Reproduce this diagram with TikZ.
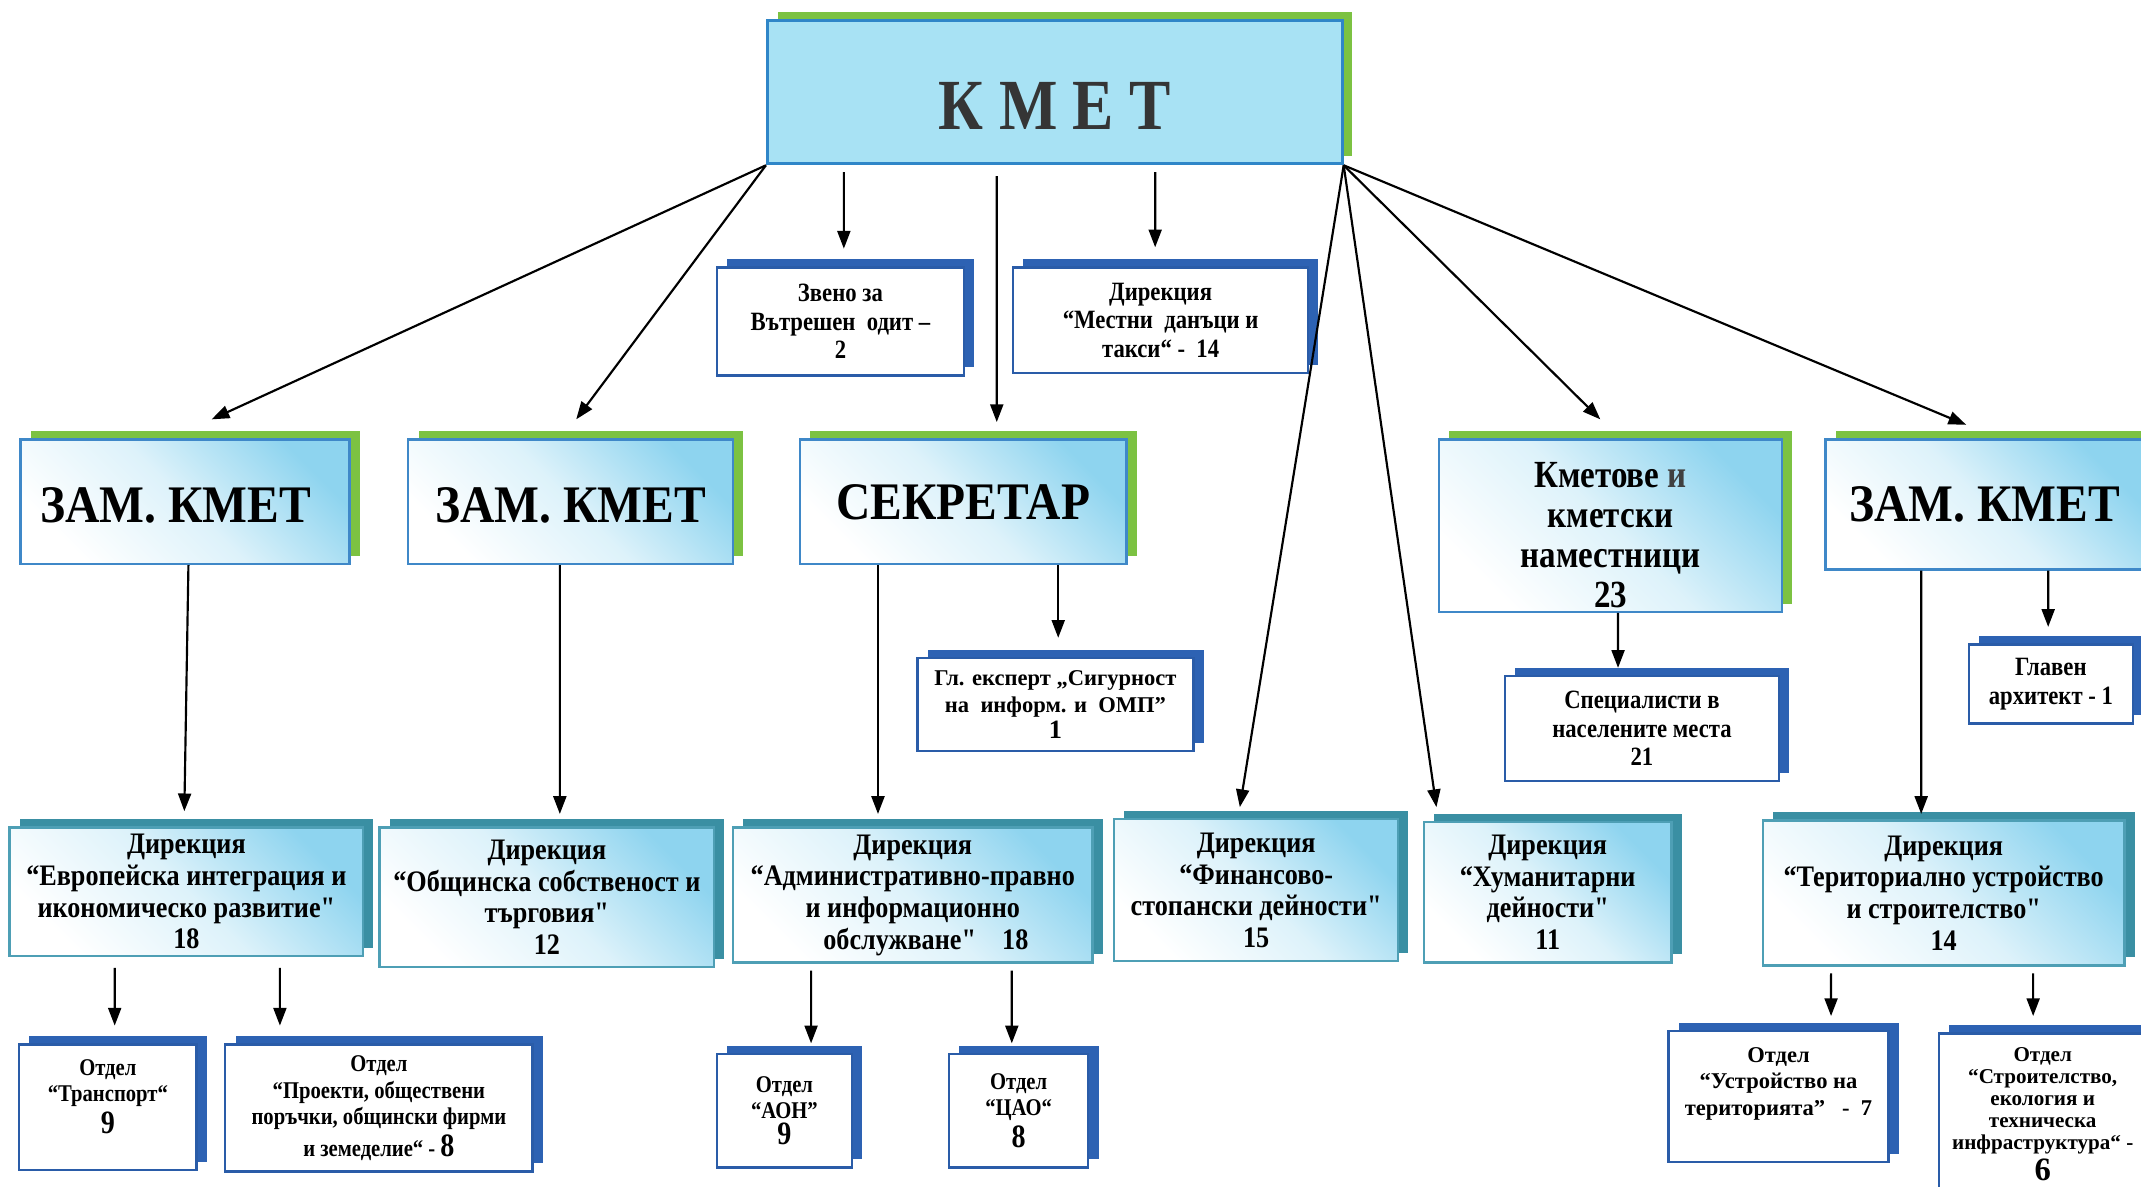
\documentclass[tikz,border=0pt]{standalone}
\usepackage{fontspec}
\setmainfont{Liberation Serif}
\newfontfamily\narrowfont{Liberation Serif}[FakeStretch=0.86]
\newfontfamily\dirfont{Liberation Serif}[FakeStretch=0.88]
\newfontfamily\headfont{Liberation Serif}[FakeStretch=0.9]
\usetikzlibrary{arrows.meta,calc}
\definecolor{kmetfill}{HTML}{A8E2F4}
\definecolor{kmetline}{HTML}{2F86C8}
\definecolor{shgreen}{HTML}{7CC242}
\definecolor{shblue}{HTML}{2D62B3}
\definecolor{shteal}{HTML}{3A8FA3}
\definecolor{skyfade}{HTML}{8ED4EF}
\definecolor{boxline}{HTML}{3F88C8}
\definecolor{unitline}{HTML}{2A5CA8}
\definecolor{dirline}{HTML}{4E9FB5}
\definecolor{kmettext}{HTML}{353535}
\tikzset{
  arr/.style={line width=0.45pt, -{Triangle[length=1.3mm,width=0.95mm]}},
  shadowed/.style={preaction={fill=#1, transform canvas={xshift=0.075cm,yshift=0.06cm}}},
  faded/.style={left color=white, right color=skyfade, middle color=white!70!skyfade, shading angle=135},
  kmetbox/.style={shadowed=shgreen, draw=kmetline, fill=kmetfill, line width=0.6pt, inner sep=0pt,
    text=kmettext, font=\narrowfont\bfseries\fontsize{15}{16}\selectfont},
  topbox/.style={shadowed=shgreen, draw=boxline, line width=0.5pt, faded, inner sep=0pt, align=center,
    font=\headfont\bfseries\fontsize{11}{11.5}\selectfont},
  dirbox/.style={shadowed=shteal, draw=dirline, line width=0.5pt, faded, inner sep=0pt, align=center,
    font=\dirfont\bfseries\fontsize{6.2}{6.6}\selectfont},
  unitbox/.style={shadowed=shblue, draw=unitline, line width=0.5pt, fill=white, inner sep=0pt, align=center,
    font=\narrowfont\bfseries\fontsize{5.5}{5.9}\selectfont},
  otdelbox/.style={unitbox, font=\narrowfont\bfseries\fontsize{5}{5.5}\selectfont},
  widebox/.style={unitbox, font=\bfseries\fontsize{4.7}{5.5}\selectfont}
}
\newcommand{\bignum}[1]{{\fontsize{6.8}{6.8}\selectfont #1}}

\begin{document}
\begin{tikzpicture}
  \fill[white] (0,0) rectangle (15.68,-8.69);
  \useasboundingbox (0,0) rectangle (15.68,-8.69);

  % top
  \node[kmetbox, minimum width=4.21cm, minimum height=1.05cm] (kmet) at (7.725,-0.675) {\raisebox{-0.1cm}[\height][\depth]{К М Е Т}};
  \node[unitbox, minimum width=1.81cm, minimum height=0.79cm] (zvn) at (6.155,-2.355) {Звено за\\Вътрешен\ \ одит –\\2};
  \node[unitbox, minimum width=2.16cm, minimum height=0.77cm] (mdt) at (8.50,-2.345) {Дирекция\\“Местни\ \ данъци и\\такси“ -\ \ 14};

  % second row
  \node[topbox, minimum width=2.41cm, minimum height=0.91cm] (zam1) at (1.355,-3.675) {\raisebox{-0.03cm}[\height][\depth]{ЗАМ. КМЕТ}\rule{0.14cm}{0pt}};
  \node[topbox, minimum width=2.38cm, minimum height=0.91cm] (zam2) at (4.18,-3.675) {\raisebox{-0.03cm}[\height][\depth]{ЗАМ. КМЕТ}};
  \node[topbox, minimum width=2.39cm, minimum height=0.91cm] (sekr) at (7.055,-3.675) {СЕКРЕТАР};
  \node[topbox, minimum width=2.51cm, minimum height=1.26cm, font=\narrowfont\bfseries\fontsize{8}{8.3}\selectfont]
    (kmetove) at (11.795,-3.85) {\rule{0pt}{0.32cm}Кметове {\color{darkgray}и}\\кметски\\наместници\\23};
  \node[topbox, minimum width=2.33cm, minimum height=0.95cm] (zam3) at (14.535,-3.695) {ЗАМ. КМЕТ};

  \node[widebox, minimum width=2.02cm, minimum height=0.68cm] (glexp) at (7.73,-5.16) {Гл. експерт „Сигурност\\на\ \ информ. и\ \ ОМП”\\\fontsize{5.5}{5.5}\selectfont 1};
  \node[unitbox, minimum width=2.01cm, minimum height=0.77cm] (spec) at (12.025,-5.335) {Специалисти в\\населените места\\21};
  \node[unitbox, minimum width=1.20cm, minimum height=0.58cm] (glarh) at (15.02,-5.01) {Главен\\архитект - 1};

  % directorates
  \node[dirbox, minimum width=2.59cm, minimum height=0.94cm] (evro) at (1.365,-6.53) {Дирекция\\“Европейска интеграция и\\икономическо развитие"\\18};
  \node[dirbox, minimum width=2.45cm, minimum height=1.02cm] (obsht) at (4.005,-6.57) {Дирекция\\“Общинска собственост и\\търговия"\\12};
  \node[dirbox, minimum width=2.63cm, minimum height=0.99cm] (admin) at (6.685,-6.555) {Дирекция\\“Административно-правно\\и информационно\\\ \ \ \ обслужване"\ \ \ \ 18};
  \node[dirbox, minimum width=2.08cm, minimum height=1.04cm] (fin) at (9.20,-6.52) {Дирекция\\“Финансово-\\стопански дейности"\\15};
  \node[dirbox, minimum width=1.81cm, minimum height=1.03cm] (hum) at (11.335,-6.535) {Дирекция\\“Хуманитарни\\дейности"\\11};
  \node[dirbox, minimum width=2.65cm, minimum height=1.06cm] (terit) at (14.235,-6.54) {Дирекция\\“Териториално устройство\\и строителство"\\14};

  % departments
  \node[otdelbox, minimum width=1.30cm, minimum height=0.92cm] (transp) at (0.79,-8.11) {Отдел\\“Транспорт“\\\bignum{9}\rule[-0.16cm]{0pt}{0pt}};
  \node[otdelbox, minimum width=2.25cm, minimum height=0.93cm] (proekt) at (2.775,-8.115) {Отдел\\“Проекти, обществени\\поръчки, общински фирми\\и земеделие“ - \bignum{8}};
  \node[otdelbox, minimum width=0.99cm, minimum height=0.83cm] (aon) at (5.745,-8.135) {Отдел\\“АОН”\\\bignum{9}};
  \node[otdelbox, minimum width=1.02cm, minimum height=0.83cm] (tsao) at (7.46,-8.135) {Отдел\\“ЦАО“\\\bignum{8}};
  \node[widebox, minimum width=1.61cm, minimum height=0.96cm] (ustr) at (13.025,-8.03) {Отдел\\“Устройство на\\територията”\ \ \ -\ \ 7\rule[-0.22cm]{0pt}{0pt}};
  \node[widebox, minimum width=1.52cm, minimum height=1.18cm, font=\bfseries\fontsize{4.4}{4.6}\selectfont] (stroit) at (14.96,-8.16) {Отдел\\“Строителство,\\екология и\\техническа\\инфраструктура“\ -\\\bignum{6}};

  % connectors from the mayor
  \draw[arr] (kmet.south west) -- ($(zam1.north)+(0.195,0.14)$);
  \draw[arr] (kmet.south west) -- ($(zam2.north)+(0.04,0.14)$);
  \draw[arr] ($(kmet.south)+(-1.545,-0.05)$) -- ($(zvn.north)+(0.025,0.13)$);
  \draw[arr] ($(kmet.south)+(-0.425,-0.08)$) -- ($(sekr.north)+(0.245,0.12)$);
  \draw[arr] ($(kmet.south)+(0.735,-0.05)$) -- ($(mdt.north)+(-0.04,0.14)$);
  \draw[arr] (kmet.south east) -- ($(fin.north)+(-0.12,0.08)$);
  \draw[arr] (kmet.south east) -- ($(hum.north)+(-0.815,0.10)$);
  \draw[arr] (kmet.south east) -- ($(kmetove.north)+(-0.075,0.14)$);
  \draw[arr] (kmet.south east) -- ($(zam3.north)+(-0.135,0.10)$);

  % second level
  \draw[arr] ($(sekr.south)+(0.695,0)$) -- ($(glexp.north)+(0.02,0.14)$);
  \draw[arr] ($(sekr.south)+(-0.625,0)$) -- ($(admin.north)+(-0.255,0.09)$);
  \draw[arr] ($(zam1.south)+(0.025,0)$) -- ($(evro.north)+(-0.015,0.11)$);
  \draw[arr] ($(zam2.south)+(-0.08,0)$) -- ($(obsht.north)+(0.095,0.09)$);
  \draw[arr] ($(kmetove.south)+(0.055,0)$) -- ($(spec.north)+(-0.175,0.05)$);
  \draw[arr] ($(zam3.south)+(0.465,0)$) -- ($(glarh.north)+(-0.02,0.12)$);
  \draw[arr] ($(zam3.south)+(-0.465,0)$) -- ($(terit.north)+(-0.165,0.04)$);

  % departments
  \draw[arr] ($(evro.south)+(-0.525,-0.08)$) -- ($(transp.north)+(0.05,0.13)$);
  \draw[arr] ($(evro.south)+(0.685,-0.08)$) -- ($(proekt.north)+(-0.725,0.13)$);
  \draw[arr] ($(admin.south)+(-0.745,-0.05)$) -- ($(aon.north)+(0.195,0.07)$);
  \draw[arr] ($(admin.south)+(0.725,-0.05)$) -- ($(tsao.north)+(-0.05,0.07)$);
  \draw[arr] ($(terit.south)+(-0.825,-0.05)$) -- ($(ustr.north)+(0.385,0.10)$);
  \draw[arr] ($(terit.south)+(0.655,-0.05)$) -- ($(stroit.north)+(-0.07,0.12)$);
\end{tikzpicture}
\end{document}
